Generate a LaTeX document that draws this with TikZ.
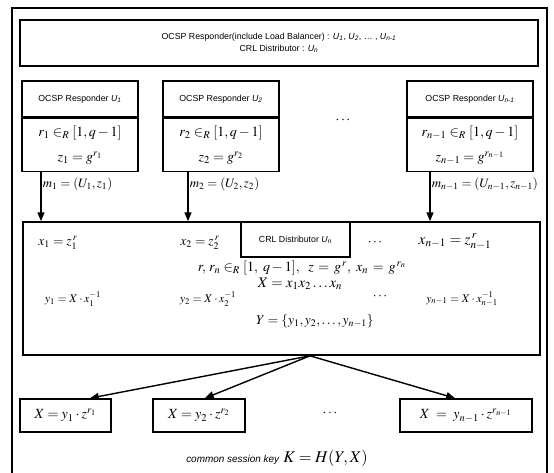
\documentclass[tikz,border=0pt]{standalone}
\usepackage{mathptmx}
\usepackage{fontspec}
\setmainfont{Liberation Serif}
\setsansfont{Liberation Sans}
\usetikzlibrary{positioning,arrows.meta}

\newcommand{\px}{0.03cm}
\newcommand{\sU}[1]{\textit{U}\textsubscript{\textit{#1}}}

\begin{document}
\begin{tikzpicture}[x=0.03cm, y=-0.03cm,
  box/.style={draw, line width=1.4pt, inner sep=0pt, align=center},
  head/.style={box, font=\sffamily\fontsize{7.5}{9}\selectfont, minimum height=36*\px},
  body/.style={box, font=\fontsize{12}{21}\selectfont, minimum height=53*\px},
  msg/.style={font=\fontsize{11}{13}\selectfont, anchor=west, inner sep=1pt},
  eq/.style={font=\fontsize{11.5}{13}\selectfont, inner sep=0pt},
  flow/.style={-{Triangle[length=7.5pt,width=6pt]}, line width=1.2pt}]

  \useasboundingbox (0,0) rectangle (554,473);
  \draw[line width=1.1pt] (12,476) -- (12,8) -- (547,8) -- (547,476);

  % who is who
  \node[box, minimum width=518*\px, minimum height=46*\px,
        font=\sffamily\fontsize{7.5}{10.5}\selectfont] (roles) at (279,43)
    {OCSP Responder(include Load Balancer) : \sU{1}, \sU{2}, \dots\ , \sU{n-1}\\CRL Distributor : \sU{n}};

  % OCSP responders
  \foreach \nm/\cx/\w/\i/\ax in {1/80/116/1/41, 2/221/116/2/188, n/470/126/{n-1}/430}{
    \node[head, minimum width=\w*\px] (h\nm) at (\cx,99) {OCSP Responder \sU{\i}};
    \node[body, minimum width=\w*\px, below=0pt of h\nm] (b\nm)
      {$r_{\i} \in_R [1,q-1]$\\$z_{\i} = g^{r_{\i}}$};
    \coordinate (a\nm) at (\ax,0);
  }
  \node[font=\fontsize{12}{12}\selectfont] (dots1) at (343,120) {$\cdots$};

  % CRL distributor
  \node[box, minimum width=517*\px, minimum height=133*\px] (main) at (281.5,288.5) {};
  \node[box, minimum width=109*\px, minimum height=35*\px,
        font=\sffamily\fontsize{7.5}{9}\selectfont] (crl) at (295.5,239.5) {CRL Distributor \sU{n}};

  \foreach \nm/\i in {1/1, 2/2, n/{n-1}}
    \draw[flow] (b\nm.south -| a\nm) -- node[msg, pos=0.25] {$m_{\i} = (U_{\i}, z_{\i})$} (main.north -| a\nm);

  \node[eq] (x1) at (58,243) {$x_1 = z_1^{\,r}$};
  \node[eq] (x2) at (200,243) {$x_2 = z_2^{\,r}$};
  \node[eq] (dots2) at (375,243) {$\cdots$};
  \node[eq, font=\fontsize{13}{15}\selectfont] (xn) at (455,242) {$x_{n-1} = z_{n-1}^{\,r}$};
  \node[eq, font=\fontsize{12}{14}\selectfont] (rr) at (302,268) {$r,\, r_n \in_R [1,\ q-1],\ \ z \,=\, g^{\,r},\ x_n \,=\, g^{\,r_n}$};
  \node[eq, font=\fontsize{12.5}{14}\selectfont] (xx) at (300,284) {$X = x_1x_2 \ldots x_n$};
  \node[eq, font=\fontsize{10}{12}\selectfont] (y1) at (73,299) {$y_1 = X \cdot x_1^{-1}$};
  \node[eq, font=\fontsize{10}{12}\selectfont] (y2) at (208,299) {$y_2 = X \cdot x_2^{-1}$};
  \node[eq] (dots3) at (380,297) {$\cdots$};
  \node[eq, font=\fontsize{10}{12}\selectfont] (yn) at (462,299) {$y_{n-1} = X \cdot x_{n-1}^{-1}$};
  \node[eq] (yy) at (315,321) {$Y = \{y_1, y_2, \ldots, y_{n-1}\}$};

  % session key at each responder
  \node[box, minimum width=91*\px, minimum height=33*\px, font=\fontsize{12}{14}\selectfont] (k1) at (65.5,415.5) {$X = y_1 \cdot z^{r_1}$};
  \node[box, minimum width=92*\px, minimum height=33*\px, font=\fontsize{12}{14}\selectfont] (k2) at (199,415.5) {$X = y_2 \cdot z^{r_2}$};
  \node[font=\fontsize{12}{12}\selectfont] (dots4) at (330,413) {$\cdots$};
  \node[box, minimum width=132*\px, minimum height=33*\px, font=\fontsize{12}{14}\selectfont] (kn) at (466,415.5) {$X \;=\; y_{n-1} \cdot z^{r_{n-1}}$};

  \coordinate (fan) at (310,0);
  \coordinate (t1) at (90,0);
  \coordinate (t2) at (205,0);
  \coordinate (tn) at (455,0);
  \foreach \nm in {1,2,n}
    \draw[flow] (main.south -| fan) -- (k\nm.north -| t\nm);

  \node[font=\fontsize{14}{16}\selectfont] (key) at (277,458)
    {{\sffamily\itshape\fontsize{8.5}{9}\selectfont common session key}\ $K = H(Y,X)$};
\end{tikzpicture}
\end{document}
